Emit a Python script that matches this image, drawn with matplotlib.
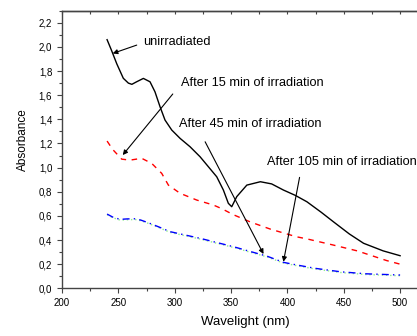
import matplotlib
matplotlib.use("Agg")
from matplotlib import pyplot as plt
from matplotlib.ticker import MultipleLocator, FuncFormatter

plt.rcParams['font.family'] = ['Liberation Sans', 'DejaVu Sans']

# unirradiated (black solid)
wl_0 = [240, 244, 248.6, 254.4, 258.9, 262, 266, 272.2, 278.1, 282.5, 287, 291.4, 297.4, 304.8,
        313.6, 322.5, 329.9, 337.3, 343.2, 347.6, 350.6, 355.1, 364, 376, 386, 396.5, 407,
        417.3, 430, 441, 455, 467.6, 485, 500]
abs_0 = [2.06, 1.97, 1.86, 1.74, 1.70, 1.69, 1.71, 1.739, 1.711, 1.628, 1.504, 1.394, 1.311, 1.242,
         1.173, 1.09, 1.007, 0.924, 0.814, 0.704, 0.676, 0.76, 0.855, 0.883, 0.865, 0.814, 0.77,
         0.717, 0.63, 0.55, 0.45, 0.373, 0.31, 0.27]

# after 15 min (red dashed)
wl_15 = [240, 245, 253, 260.4, 270.7, 279.6, 288.5, 294.4, 304.8, 319.6, 334.3, 341.7, 352, 367,
         385, 408, 417, 440, 462, 488, 500]
abs_15 = [1.22, 1.15, 1.07, 1.062, 1.077, 1.035, 0.952, 0.855, 0.787, 0.731, 0.69, 0.66, 0.61, 0.55,
          0.49, 0.427, 0.41, 0.36, 0.31, 0.23, 0.20]

# after 45 min (blue dash-dot) and after 105 min (green dotted)
wl_45 = [240, 245, 251.5, 258, 265, 270, 276, 285.5, 296, 310, 322.6, 337, 352, 367, 381.7, 396.5,
         408.4, 425, 447, 470, 500]
abs_45 = [0.615, 0.59, 0.571, 0.575, 0.576, 0.565, 0.545, 0.51, 0.469, 0.44, 0.414, 0.38, 0.345, 0.305,
          0.267, 0.215, 0.193, 0.165, 0.137, 0.12, 0.11]
abs_105 = [0.61, 0.585, 0.565, 0.568, 0.57, 0.56, 0.54, 0.505, 0.463, 0.434, 0.408, 0.374, 0.339, 0.299,
           0.261, 0.209, 0.187, 0.159, 0.131, 0.114, 0.104]

labels = ['unirradiated', 'After 15 min of irradiation',
          'After 45 min of irradiation', 'After 105 min of irradiation']
label_xy = [(272.1, 2.043), (305.3, 1.698), (304.0, 1.361), (381.7, 1.049)]
arrow_tail = [(266.3, 2.015), (298.3, 1.61), (327, 1.214), (410.8, 0.919)]
arrow_tip = [(245, 1.946), (253.9, 1.104), (378.8, 0.284), (396.5, 0.22)]

fig = plt.figure(figsize=(4.17, 3.36), dpi=100)
ax = fig.add_axes([62 / 417, 47.7 / 336, 355 / 417, 277.6 / 336])

ax.plot(wl_0, abs_0, color='black', lw=1.0)
ax.plot(wl_15, abs_15, color='red', lw=1.0, linestyle=(0, (4, 4)))
ax.plot(wl_45, abs_105, color='#90ee90', lw=1.0, linestyle=(0, (1, 2)))
ax.plot(wl_45, abs_45, color='blue', lw=1.0, linestyle=(0, (5, 3, 1, 3)))

for txt, xy in zip(labels, label_xy):
    ax.text(xy[0], xy[1], txt, fontsize=9.2, ha='left', va='center')
for tail, tip in zip(arrow_tail, arrow_tip):
    ax.annotate('', xy=tip, xytext=tail,
                arrowprops=dict(arrowstyle='-|>', color='black', lw=0.8, mutation_scale=7,
                                shrinkA=0, shrinkB=0))

ax.set_xlim(200, 515)
ax.set_ylim(0, 2.3)
ax.xaxis.set_major_locator(MultipleLocator(50))
ax.xaxis.set_minor_locator(MultipleLocator(25))
ax.yaxis.set_major_locator(MultipleLocator(0.2))
ax.yaxis.set_minor_locator(MultipleLocator(0.1))
ax.yaxis.set_major_formatter(FuncFormatter(lambda v, p: f"{v:.1f}".replace('.', ',')))

ax.spines['right'].set_visible(False)
for s in ['left', 'bottom', 'top']:
    ax.spines[s].set_color('#444444')
    ax.spines[s].set_linewidth(1.0)
ax.tick_params(which='both', direction='out', labelsize=7, color='#444444', width=0.8,
               top=False, right=False)
ax.tick_params(which='major', length=3.5)
ax.tick_params(which='minor', length=2)

# inward ticks on the top spine, no labels
top = ax.secondary_xaxis('top')
top.xaxis.set_major_locator(MultipleLocator(25))
top.tick_params(direction='in', length=2.5, width=0.8, color='#444444', labeltop=False)
top.spines['top'].set_color('#444444')
top.spines['top'].set_linewidth(1.0)

ax.set_xlabel('Wavelight (nm)', fontsize=9.5, va='center')
ax.set_ylabel('Absorbance', fontsize=8.5, va='center')
ax.xaxis.set_label_coords(0.517, -0.122)
ax.yaxis.set_label_coords(-0.11, 0.534)

fig.savefig('out.png', dpi=100)
